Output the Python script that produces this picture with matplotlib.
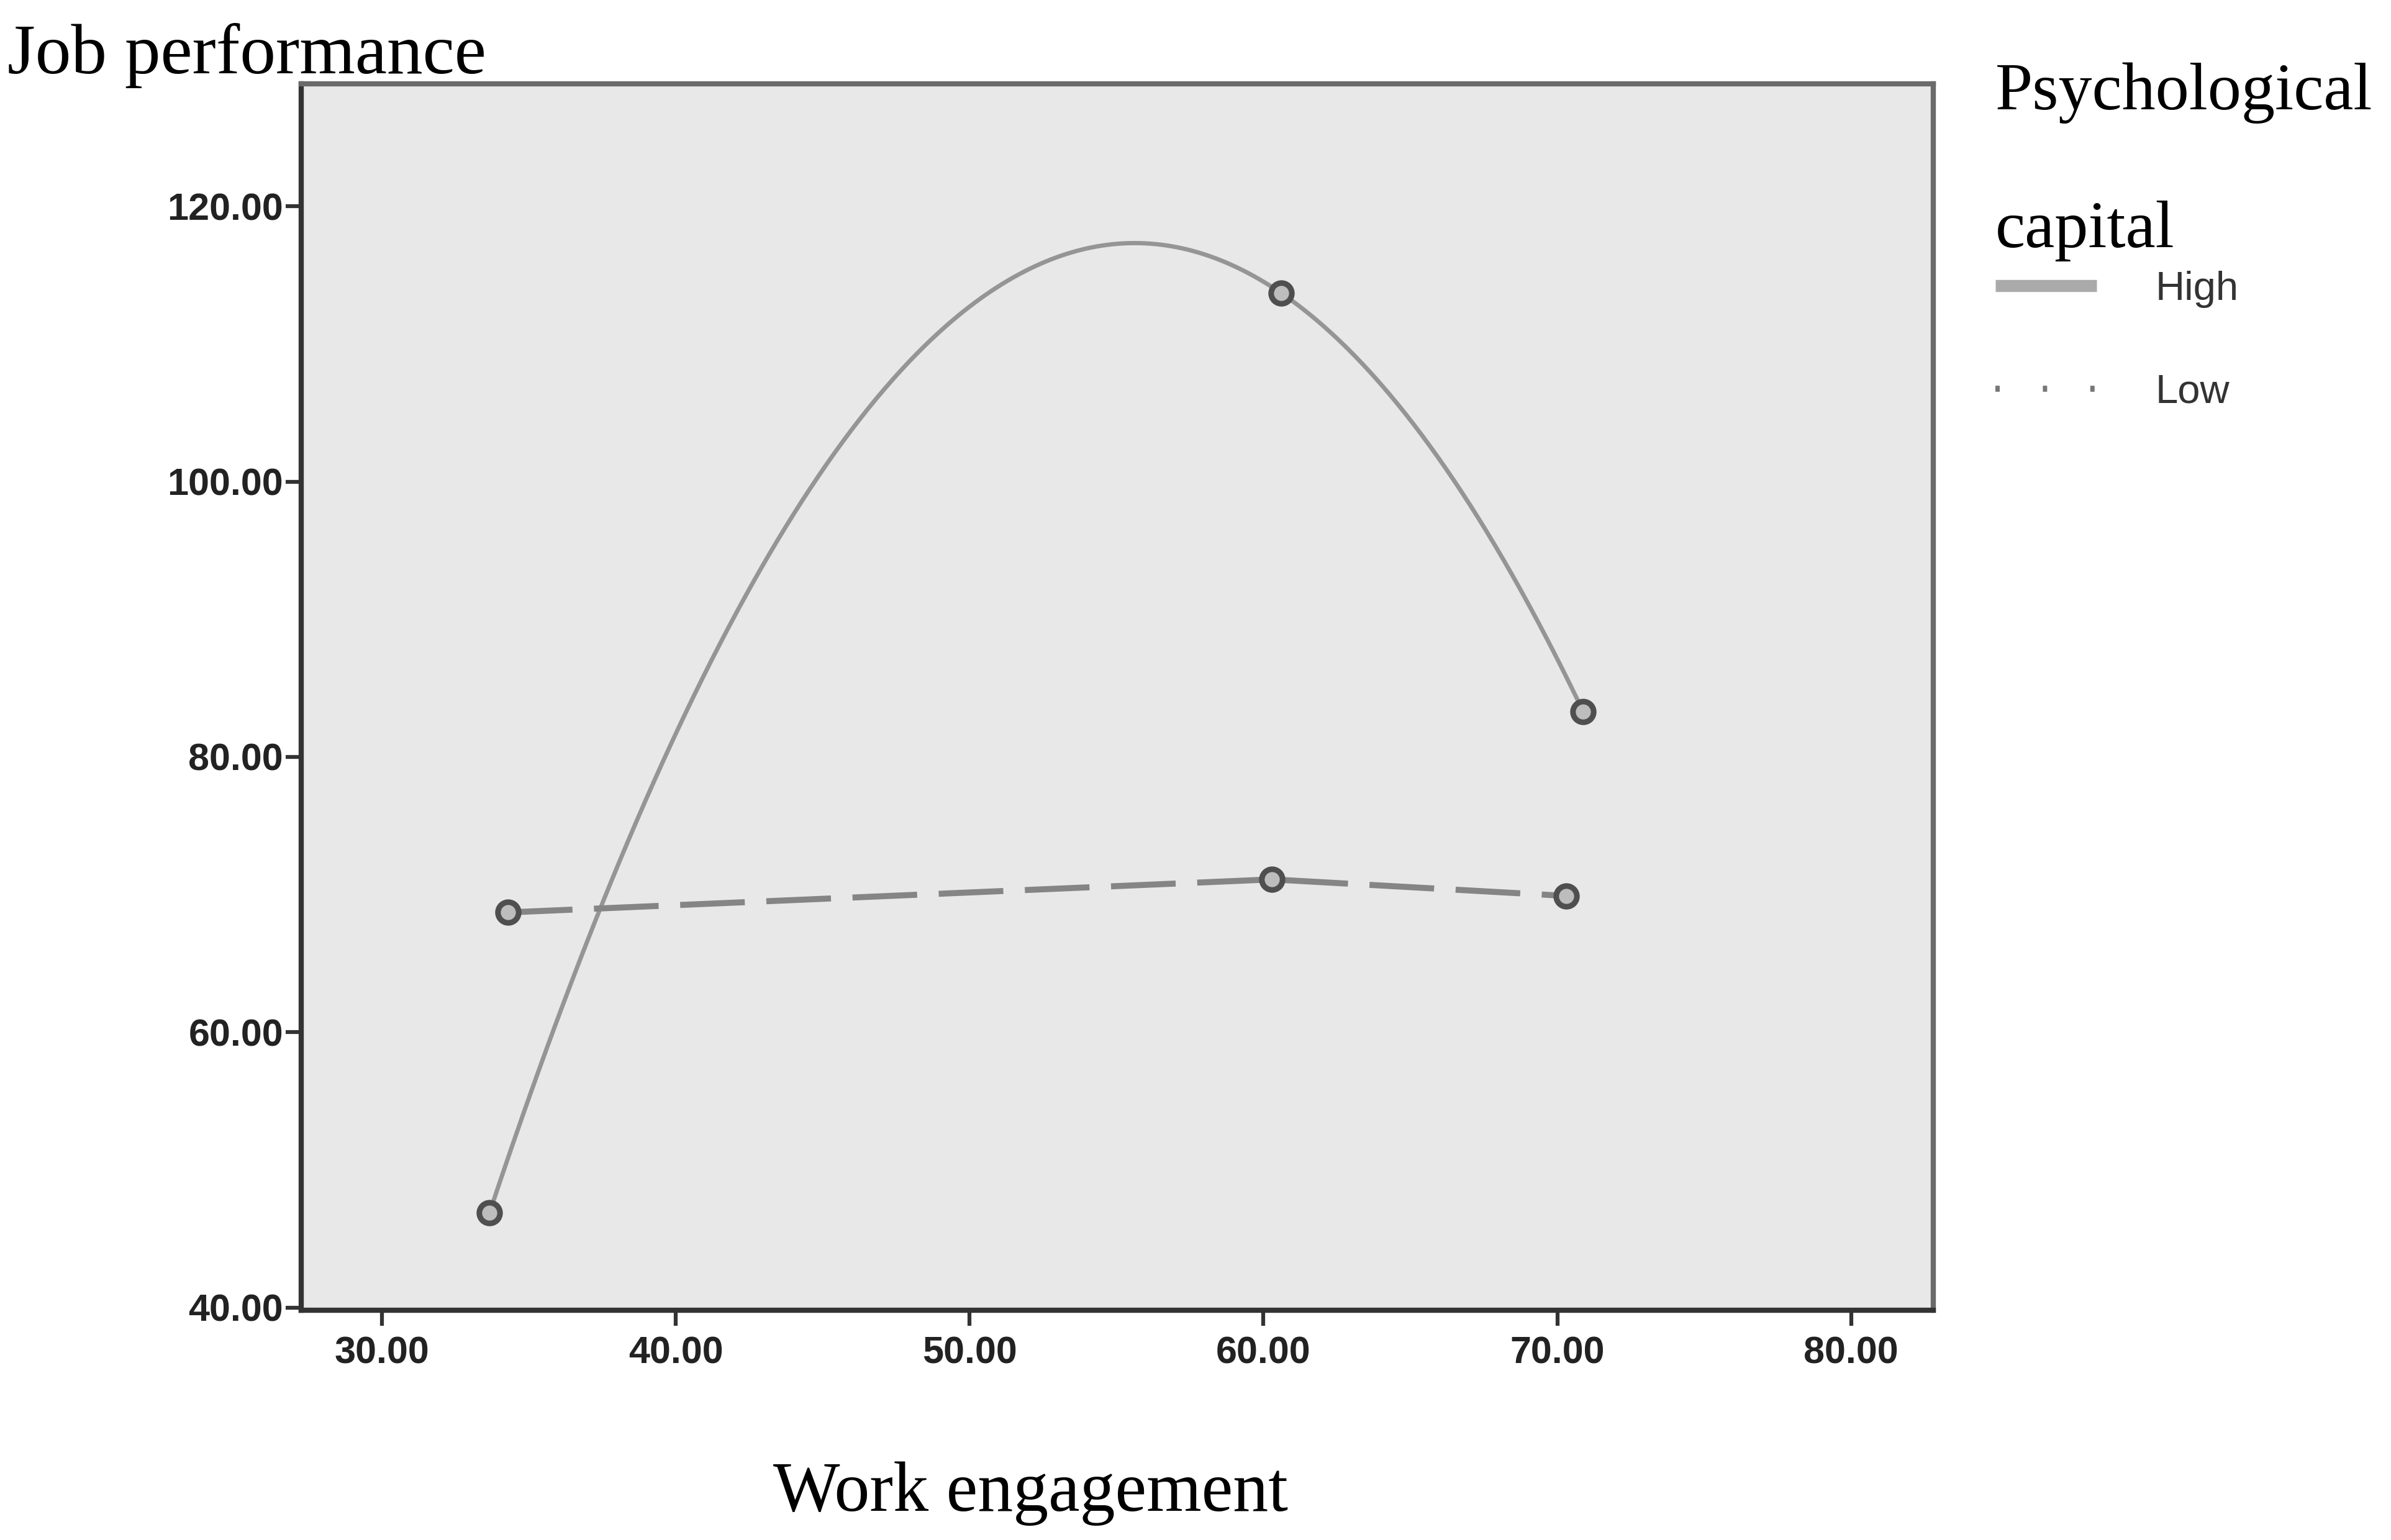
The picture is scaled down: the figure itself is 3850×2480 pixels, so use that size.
import matplotlib
matplotlib.use("Agg")
import matplotlib.pyplot as plt
import numpy as np
from matplotlib.lines import Line2D

plt.rcParams["lines.scale_dashes"] = False

# ---- data ----
engagement_high = [33.66, 60.60, 70.88]
performance_high = [46.9, 113.7, 83.3]
engagement_low = [34.28, 60.29, 70.30]
performance_low = [68.7, 71.1, 69.9]
series_labels = ["High", "Low"]
legend_title = "Psychological\ncapital"
x_label = "Work engagement"
y_label = "Job performance"
x_ticks = [30, 40, 50, 60, 70, 80]
y_ticks = [40, 60, 80, 100, 120]

SERIF = ["Liberation Serif", "DejaVu Serif"]
SANS = ["Liberation Sans", "DejaVu Sans"]

fig = plt.figure(figsize=(38.5, 24.8), dpi=100)
ax = fig.add_axes([0.1260, 0.1492, 0.6826, 0.7964])
ax.set_facecolor("#e8e8e8")
ax.set_xlim(27.25, 82.8)
ax.set_ylim(39.8, 128.9)

marker_kw = dict(marker="o", linestyle="none", markersize=24, markeredgewidth=6.5,
                 markeredgecolor="#4f4f4f", markerfacecolor="#bdbdbd", zorder=5)

# High: quadratic fit line through the group's points (solid)
coef_h = np.polyfit(engagement_high, performance_high, 2)
xs_h = np.linspace(min(engagement_high), max(engagement_high), 400)
ax.plot(xs_h, np.polyval(coef_h, xs_h), color="#959595", lw=5, solid_capstyle="round", zorder=3)
ax.plot(engagement_high, performance_high, **marker_kw)

# Low: dashed line joining the group's points
ax.plot(engagement_low, performance_low, color="#858585", lw=7,
        linestyle=(0, (75, 25)), zorder=3)
ax.plot(engagement_low, performance_low, **marker_kw)

# ticks
ax.set_xticks(x_ticks)
ax.set_yticks(y_ticks)
ax.set_xticklabels([f"{v:.2f}" for v in x_ticks])
ax.set_yticklabels([f"{v:.2f}" for v in y_ticks])
for lab in ax.get_xticklabels() + ax.get_yticklabels():
    lab.set_family(SANS)
    lab.set_fontweight("bold")
    lab.set_fontsize(44)
    lab.set_color("#222222")
ax.tick_params(direction="out", length=18, width=4.5, color="#333333")
ax.tick_params(axis="y", pad=3)
ax.tick_params(axis="x", pad=12)

for side in ["left", "bottom"]:
    ax.spines[side].set_color("#333333")
    ax.spines[side].set_linewidth(6)
for side in ["top", "right"]:
    ax.spines[side].set_color("#6a6a6a")
    ax.spines[side].set_linewidth(6)

# axis labels
ax.set_ylabel(y_label, rotation=0, ha="left", va="baseline",
              fontsize=83, family=SERIF, color="black")
ax.yaxis.set_label_coords(-0.180, 1.0085)
ax.set_xlabel(x_label, ha="center", va="baseline",
              fontsize=82, family=SERIF, color="black")
ax.xaxis.set_label_coords(0.447, -0.1635)

# legend
handles = [
    Line2D([], [], color="#aaaaaa", lw=14, solid_capstyle="butt"),
    Line2D([], [], color="#777777", lw=7, linestyle=(0, (5, 50)), dash_capstyle="butt"),
]
leg = ax.legend(handles, series_labels, title=legend_title,
                loc="upper left", bbox_to_anchor=(3180 / 3850, 1 - 68 / 2480),
                bbox_transform=fig.transFigure, frameon=False,
                prop={"family": SANS, "size": 47},
                title_fontproperties={"family": SERIF, "size": 78},
                alignment="left", borderpad=0, handlelength=2.5,
                handletextpad=1.45, labelspacing=1.62)
leg.get_title().set_linespacing(2.65)
leg._legend_box.sep = 11
for t in leg.get_texts():
    t.set_color("#333333")

fig.savefig("out.png", dpi=100)
